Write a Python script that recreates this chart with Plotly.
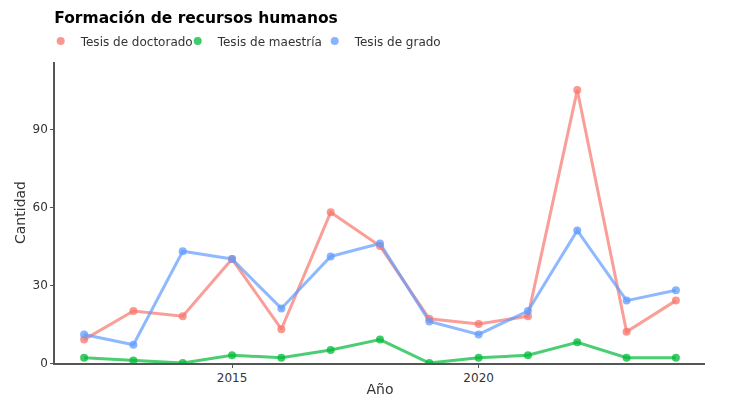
import plotly.graph_objects as go

years = list(range(2012, 2025))
doctorado = [9, 20, 18, 40, 13, 58, 45, 17, 15, 18, 105, 12, 24]
maestria = [2, 1, 0, 3, 2, 5, 9, 0, 2, 3, 8, 2, 2]
grado = [11, 7, 43, 40, 21, 41, 46, 16, 11, 20, 51, 24, 28]

series = [
    ("Tesis de doctorado", doctorado, "#F8766D"),
    ("Tesis de maestría", maestria, "#00BA38"),
    ("Tesis de grado", grado, "#619CFF"),
]

fig = go.Figure()
for name, vals, col in series:
    fig.add_trace(go.Scatter(
        x=years, y=vals, name=name, mode="lines", legendgroup=name, showlegend=False,
        line=dict(color=col, width=3), opacity=0.7, hoverinfo="skip",
    ))
for name, vals, col in series:
    fig.add_trace(go.Scatter(
        x=years, y=vals, name=name, mode="markers", legendgroup=name,
        marker=dict(color=col, size=8), opacity=0.75,
    ))

axis_common = dict(
    showgrid=False, zeroline=False, showline=True, linecolor="#555555", linewidth=1.5,
    ticks="outside", ticklen=3, tickcolor="#555555", automargin=False,
    tickfont=dict(family="DejaVu Sans", size=12, color="#333333"),
)

fig.update_layout(
    width=743, height=409,
    paper_bgcolor="white", plot_bgcolor="white",
    margin=dict(l=55, r=38, t=62, b=46),
    font=dict(family="DejaVu Sans", color="#222222"),
    title=dict(text="<b>Formación de recursos humanos</b>", x=0.073, xanchor="left",
               y=0.956, yanchor="middle", font=dict(size=15.5, color="black")),
    legend=dict(orientation="h", x=-0.022, xanchor="left", y=1.07, yanchor="middle",
                font=dict(size=12, color="#333333"), itemwidth=30, tracegroupgap=0,
                entrywidth=92, entrywidthmode="pixels"),
    xaxis=dict(range=[2011.41, 2024.59], tickvals=[2015, 2020],
               title=dict(text="Año", font=dict(size=14, color="#333333"), standoff=0),
               **axis_common),
    yaxis=dict(range=[0, 115.8], tickvals=[0, 30, 60, 90],
               title=dict(text="Cantidad", font=dict(size=14, color="#333333"), standoff=4),
               **axis_common),
)

fig.write_html("out.html", config={"displayModeBar": False},
               post_script="document.body.style.margin='0';")
